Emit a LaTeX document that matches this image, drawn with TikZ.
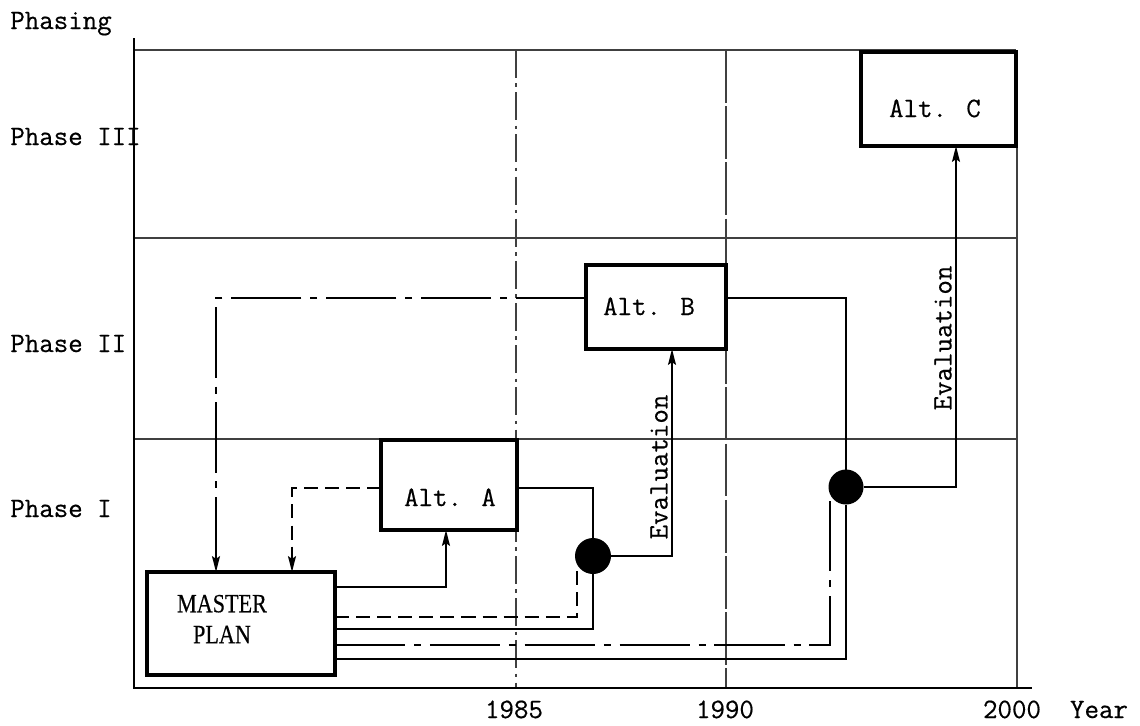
\documentclass[tikz,border=0pt]{standalone}
\usepackage{fontspec}
\usepackage{graphicx}
\newfontfamily\mpfont{Liberation Serif}[FakeBold=0.4]
\newfontfamily\tyfont{Latin Modern Mono}[FakeBold=0.5]
\usetikzlibrary{arrows.meta}
\begin{document}
\begin{tikzpicture}[x=0.02cm,y=-0.02cm,
  grid/.style={line width=0.6pt, black!75},
  axis/.style={line width=1.1pt},
  box/.style={draw, line width=1.8pt, fill=white, inner sep=0pt, outer sep=0pt},
  conn/.style={line width=1.1pt},
  arr/.style={-{Stealth[length=9pt,width=4.5pt,inset=1.5pt]}},
  dashln/.style={dash pattern=on 8pt off 4pt},
  dashdotln/.style={dash pattern=on 40pt off 5pt on 4pt off 5pt},
  dot/.style={circle, fill=black, inner sep=0pt, outer sep=0pt},
  lbl/.style={font=\tyfont\fontsize{16}{18}\selectfont, inner sep=0pt},
]
\useasboundingbox (0,0) rectangle (1140,725);

% grid and axes
\draw[grid] (135,50) -- (1016,50);
\draw[grid] (135,238) -- (1016,238);
\draw[grid] (135,439) -- (1016,439);
\draw[grid, dash pattern=on 16pt off 3pt on 2pt off 3pt] (516,50) -- (516,688);
\draw[grid, dash pattern=on 30pt off 2pt] (726,50) -- (726,688);
\draw[grid] (1017,50) -- (1017,688);
\draw[axis] (134,38) -- (134,688) -- (1032,688);

% boxes
\node[box, minimum width=3.76cm, minimum height=2.06cm] (master) at (241,623.5) {};
\node[box, minimum width=2.72cm, minimum height=1.80cm] (altA) at (449,485) {};
\node[box, minimum width=2.80cm, minimum height=1.68cm] (altB) at (656,307) {};
\node[box, minimum width=3.10cm, minimum height=1.88cm] (altC) at (938.5,99) {};
\node[dot, minimum size=0.72cm] (dot1) at (593,556) {};
\node[dot, minimum size=0.70cm] (dot2) at (846,487) {};

% box texts
\node[font=\mpfont\fontsize{15}{17.6}\selectfont, align=center, inner sep=0pt] (mptext) at (222,619) {\scalebox{0.84}[1]{MASTER}\\\scalebox{0.84}[1]{PLAN}};
\node[lbl, anchor=base] (altAt) at (450,506) {Alt. A};
\node[lbl, anchor=base] (altBt) at (649,315) {Alt. B};
\node[lbl, anchor=base] (altCt) at (935,117) {Alt. C};

% helper coordinates
\coordinate (yB) at (0,298);
\coordinate (yA) at (0,488);
\coordinate (xB) at (216,0);
\coordinate (xA) at (292,0);
\coordinate (y1) at (0,587);
\coordinate (x1) at (446,0);
\coordinate (y2) at (0,617);
\coordinate (y3) at (0,629);
\coordinate (y4) at (0,645);
\coordinate (y5) at (0,659);
\coordinate (xE1) at (672,0);
\coordinate (xE2) at (956,0);

% connectors
\draw[conn,dashdotln,arr] (altB.west |- yB) -| (master.north -| xB);
\draw[conn,dashln,arr] (altA.west |- yA) -| (master.north -| xA);
\draw[conn,arr] (master.east |- y1) -| (altA.south -| x1);
\draw[conn] (altA.east |- yA) -| (dot1.north);
\draw[conn,dashln] (master.east |- y2) -| (dot1.207);
\draw[conn] (master.east |- y3) -| (dot1.south);
\draw[conn,arr] (dot1.east) -| (altB.south -| xE1);
\draw[conn] (altB.east |- yB) -| (dot2.north);
\draw[conn,dashdotln] (master.east |- y4) -| (dot2.205);
\draw[conn] (master.east |- y5) -| (dot2.south);
\draw[conn,arr] (dot2.east) -| (altC.south -| xE2);

% evaluation labels
\node[lbl, rotate=90, anchor=south] (ev1) at (668,467) {Evaluation};
\node[lbl, rotate=90, anchor=south] (ev2) at (952,338) {Evaluation};

% axis labels
\node[lbl, anchor=base west] (phasing) at (10,29) {Phasing};
\node[lbl, anchor=base west] (p3) at (10,145) {Phase III};
\node[lbl, anchor=base west] (p2) at (10,352) {Phase II};
\node[lbl, anchor=base west] (p1) at (10,517) {Phase I};
\node[lbl, anchor=base] (t85) at (514,718) {1985};
\node[lbl, anchor=base] (t90) at (725,718) {1990};
\node[lbl, anchor=base] (t00) at (1012,718) {2000};
\node[lbl, anchor=base] (tyr) at (1099,718) {Year};
\end{tikzpicture}
\end{document}
